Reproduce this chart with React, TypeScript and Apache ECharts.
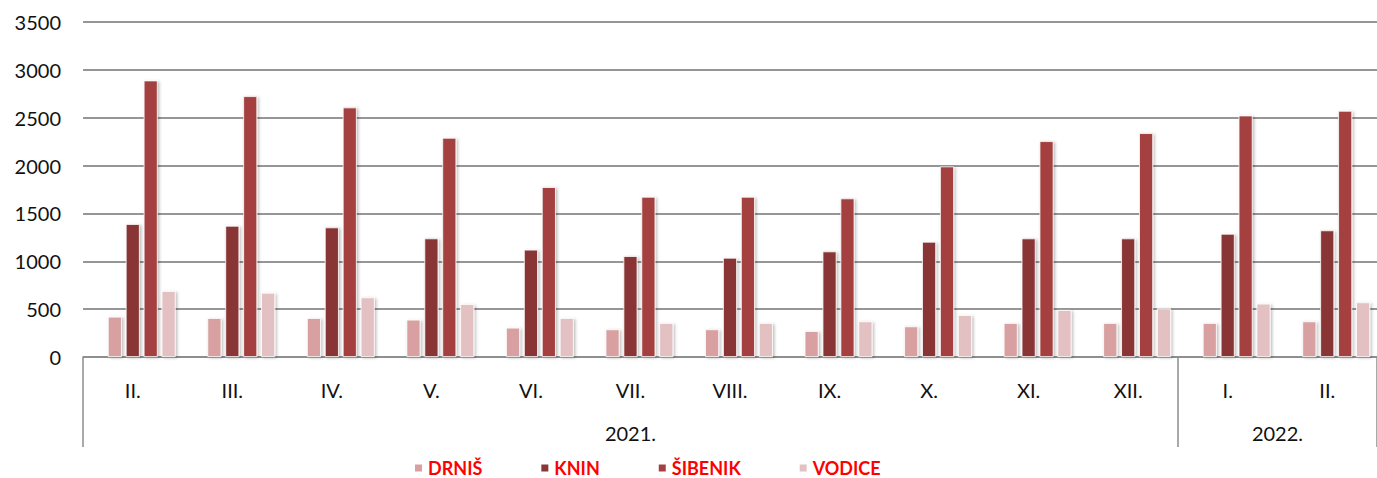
import React, { useEffect, useRef } from "react";
import * as echarts from "echarts";

const months = ["II.", "III.", "IV.", "V.", "VI.", "VII.", "VIII.", "IX.", "X.", "XI.", "XII.", "I.", "II."];
const years = ["2021.", "2022."];
const yearSpans = [11, 2];
const yTicks = { min: 0, max: 3500, interval: 500 };

const drnis = [421, 407, 407, 390, 306, 289, 289, 271, 320, 355, 355, 355, 372];
const knin = [1389, 1371, 1354, 1239, 1121, 1054, 1037, 1103, 1204, 1239, 1239, 1287, 1323];
const sibenik = [2889, 2725, 2607, 2290, 1775, 1674, 1674, 1657, 1991, 2255, 2339, 2523, 2572];
const vodice = [689, 671, 623, 553, 407, 355, 355, 372, 438, 491, 508, 557, 571];

const seriesNames = ["DRNIŠ", "KNIN", "ŠIBENIK", "VODICE"];
const seriesData = [drnis, knin, sibenik, vodice];
const seriesColors = ["#D8A0A0", "#8A3536", "#A44140", "#E3C0C2"];

export default function App() {
  const ref = useRef<HTMLDivElement>(null);
  useEffect(() => {
    document.body.style.margin = "0";
    if (!ref.current) return;
    const chart = echarts.init(ref.current, null, { renderer: "svg" });

    const boundaries: number[] = [0];
    const mids: number[] = [];
    let acc = 0;
    yearSpans.forEach((s) => {
      mids.push(acc + s / 2);
      acc += s;
      boundaries.push(acc);
    });

    const font = "Lato, 'Open Sans', sans-serif";

    const barSeries: any[] = [
      {
        name: "spacer",
        type: "bar",
        xAxisIndex: 0,
        data: months.map(() => null),
        barWidth: 14,
        barGap: "28%",
        itemStyle: { color: "transparent" },
        silent: true,
      },
      ...seriesNames.map((n, i) => ({
        name: n,
        type: "bar",
        xAxisIndex: 0,
        data: seriesData[i],
        barWidth: 14,
        barGap: "28%",
        itemStyle: {
          color: seriesColors[i],
          borderColor: "#ffffff",
          borderWidth: 0.8,
          shadowColor: "rgba(0,0,0,0.28)",
          shadowBlur: 3,
          shadowOffsetX: 1.5,
          shadowOffsetY: 1,
        },
      })),
    ];

    chart.setOption({
      animation: false,
      grid: { left: 83, top: 22, right: -6, height: 335, containLabel: false },
      legend: {
        data: seriesNames,
        left: 413,
        top: 459,
        padding: 0,
        icon: "rect",
        itemWidth: 9,
        itemHeight: 9,
        itemGap: 57,
        textStyle: { color: "#FF0000", fontWeight: "bold", fontSize: 18, fontFamily: font, lineHeight: 18 },
      },
      xAxis: [
        {
          type: "category",
          data: months,
          position: "bottom",
          axisLine: { show: true, lineStyle: { color: "#8c8c8c", width: 1.5 } },
          axisTick: { show: false },
          axisLabel: { color: "#111", fontSize: 20, fontFamily: font, margin: 23, interval: 0 },
        },
        {
          type: "value",
          min: 0,
          max: months.length,
          position: "bottom",
          splitLine: { show: false },
          axisLine: { show: false },
          axisTick: {
            show: true,
            customValues: boundaries,
            length: 90,
            lineStyle: { color: "#8c8c8c", width: 1.5 },
          },
          axisLabel: {
            customValues: mids,
            color: "#111",
            fontSize: 20,
            fontFamily: font,
            margin: 66,
            formatter: (v: number) => {
              const idx = mids.findIndex((m) => Math.abs(m - v) < 1e-6);
              return idx >= 0 ? years[idx] : "";
            },
          },
        },
      ],
      yAxis: {
        type: "value",
        min: yTicks.min,
        max: yTicks.max,
        interval: yTicks.interval,
        axisLine: { show: false },
        axisTick: { show: false },
        splitLine: { lineStyle: { color: "#969696", width: 1.8 } },
        axisLabel: {
          color: "#111",
          fontSize: 20,
          fontFamily: font,
          margin: 22,
          formatter: (v: number) => String(v),
        },
      },
      series: barSeries,
    });
    return () => chart.dispose();
  }, []);
  return <div ref={ref} style={{ width: 1377, height: 478 }} />;
}
